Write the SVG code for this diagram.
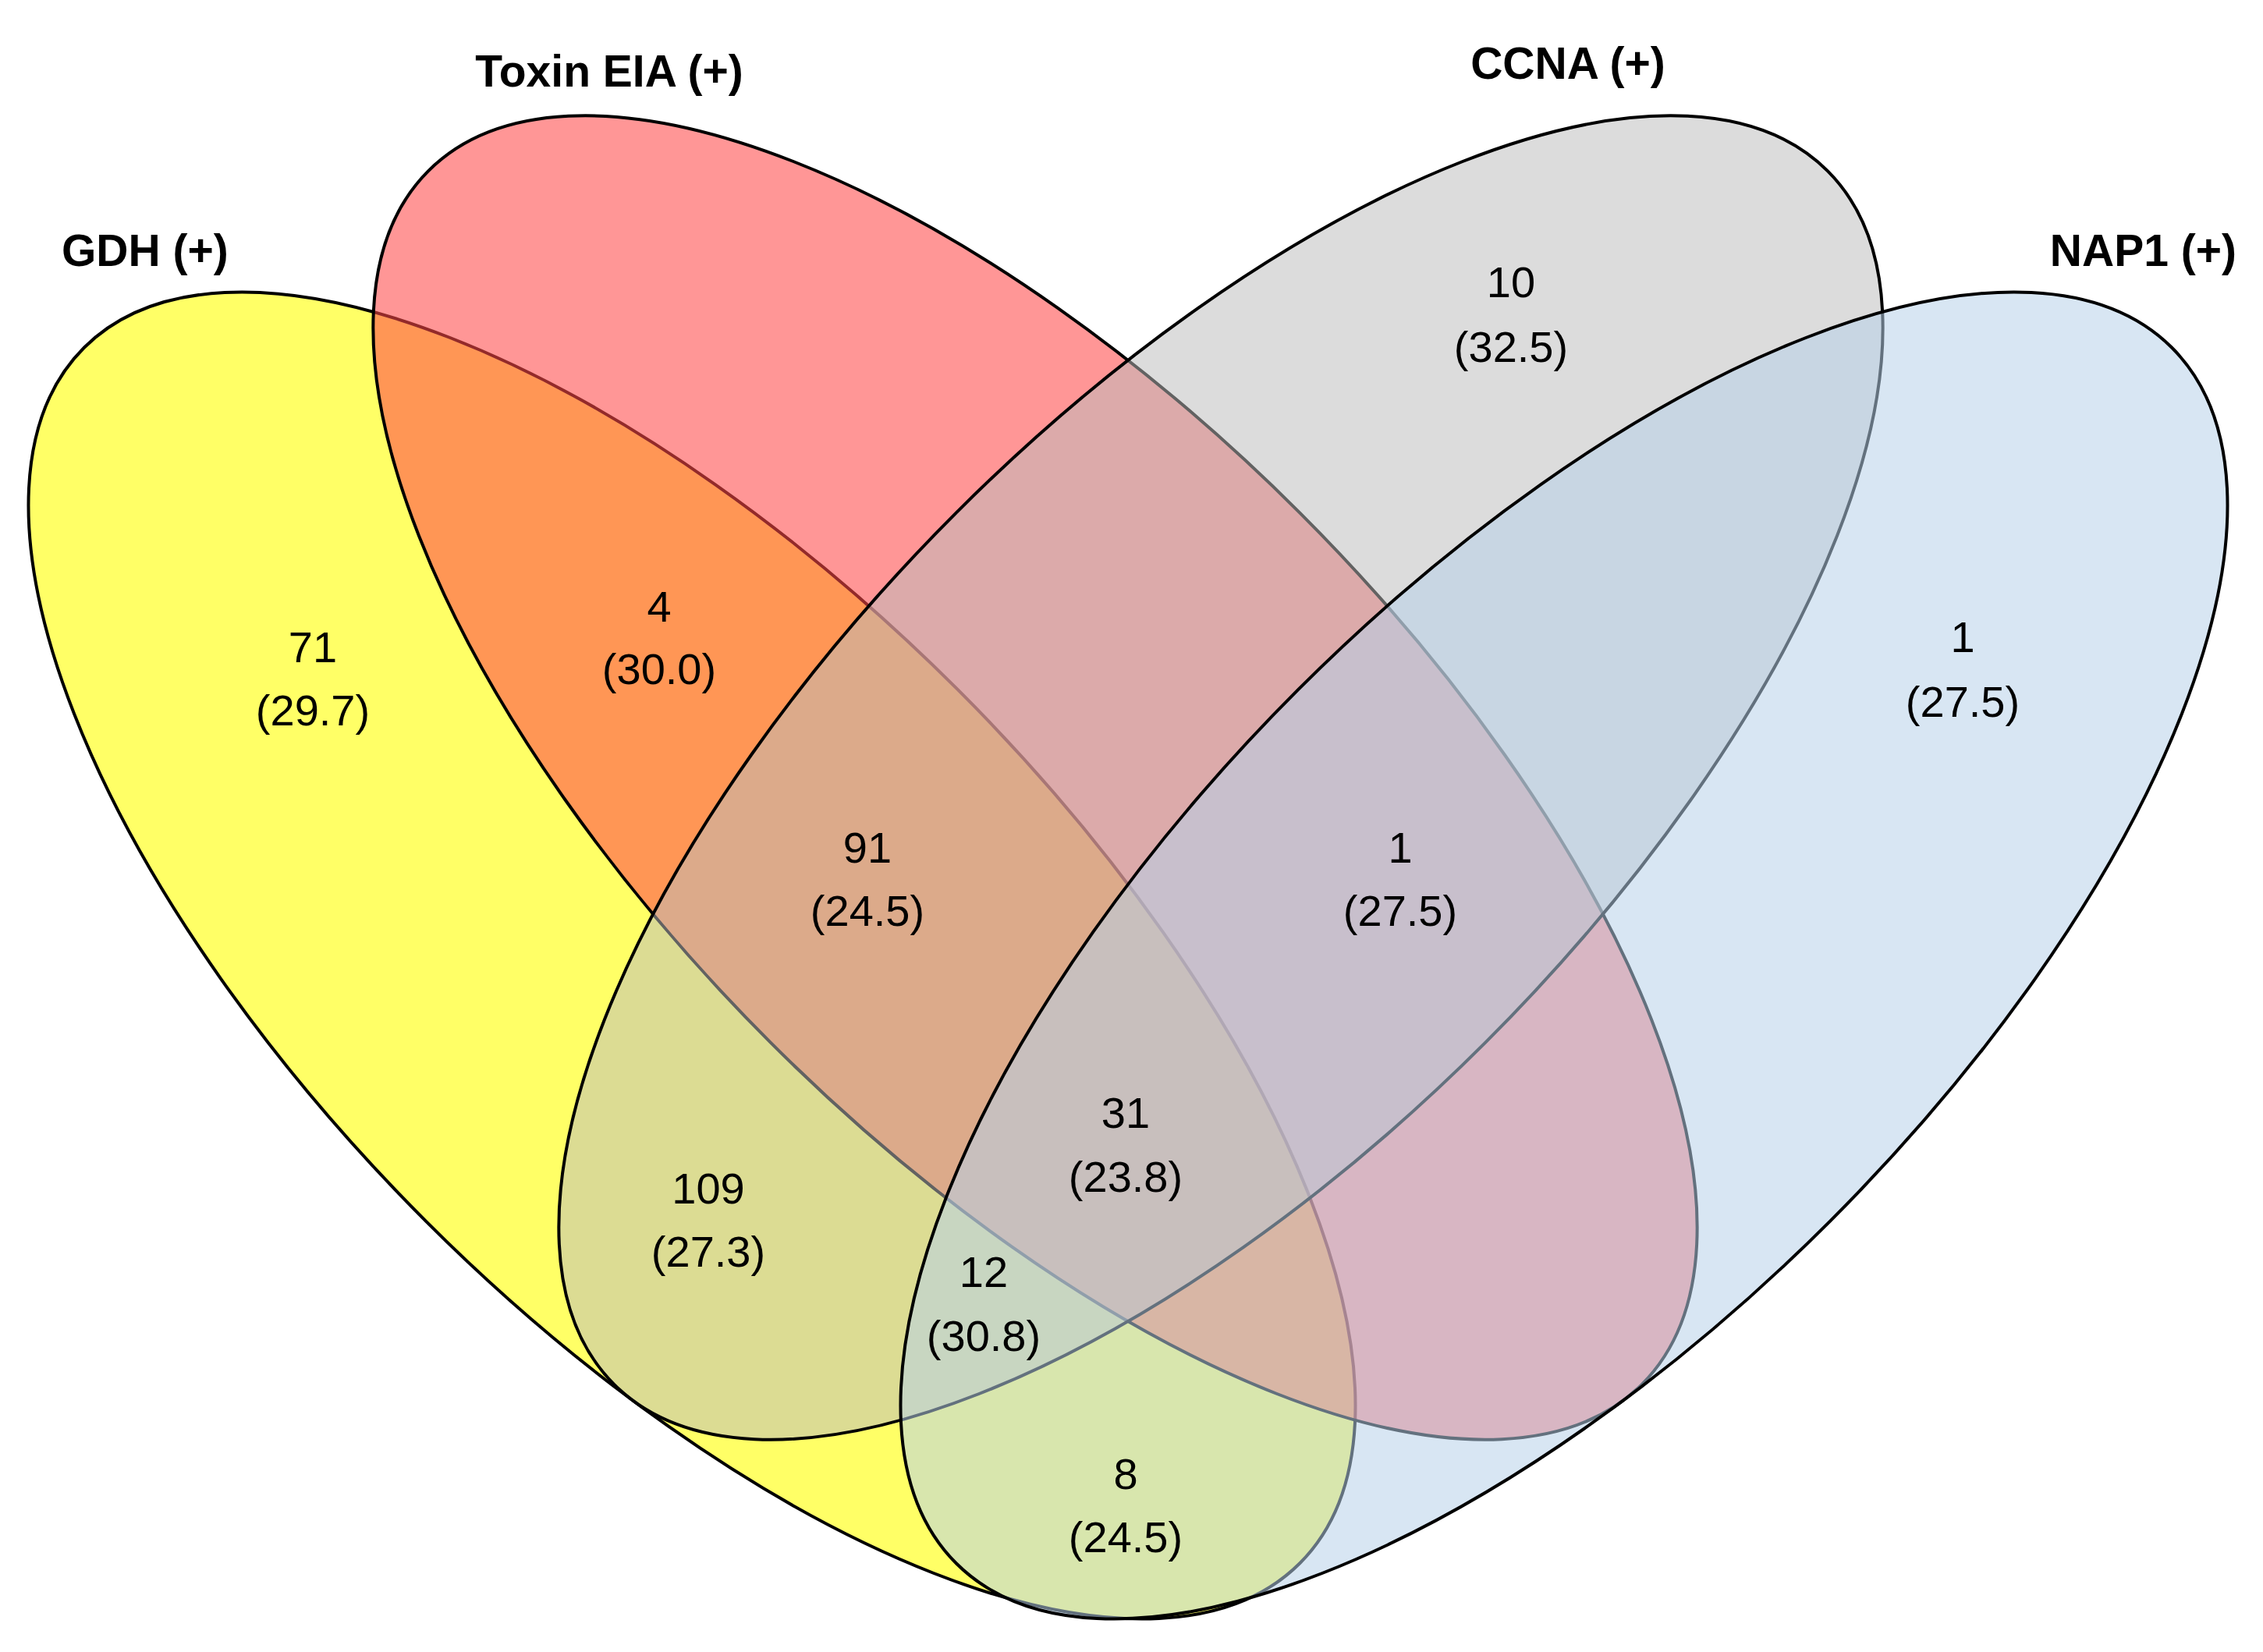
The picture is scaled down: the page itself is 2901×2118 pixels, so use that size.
<svg xmlns="http://www.w3.org/2000/svg" width="2901" height="2118" viewBox="0 0 2901 2118">
<style>
.set{stroke:#000;stroke-width:4}
.title{font-family:"Liberation Sans",Arial,sans-serif;font-weight:bold;font-size:57px;fill:#000}
.num{font-family:"Liberation Sans",Arial,sans-serif;font-size:56px;fill:#000;text-anchor:middle}
</style>
<rect width="2901" height="2118" fill="#fff"/>
<g id="set-gdh">
<ellipse class="set" cx="887" cy="1225" rx="1102" ry="482" transform="rotate(45 887 1225)" fill="rgb(255,255,0)" fill-opacity="0.6"/>
<text class="title" x="79" y="341">GDH (+)</text>
</g>
<g id="set-toxin">
<ellipse class="set" cx="1327" cy="997" rx="1100" ry="480" transform="rotate(45 1327 997)" fill="rgb(255,73,73)" fill-opacity="0.575"/>
<text class="title" x="781" y="111" text-anchor="middle">Toxin EIA (+)</text>
</g>
<g id="set-ccna">
<ellipse class="set" cx="1565" cy="997" rx="1100" ry="480" transform="rotate(-45 1565 997)" fill="rgb(188,188,188)" fill-opacity="0.52"/>
<text class="title" x="2010" y="101" text-anchor="middle">CCNA (+)</text>
</g>
<g id="set-nap1">
<ellipse class="set" cx="2005" cy="1225" rx="1102" ry="482" transform="rotate(-45 2005 1225)" fill="rgb(183,209,233)" fill-opacity="0.54"/>
<text class="title" x="2867" y="341" text-anchor="end">NAP1 (+)</text>
</g>
<g id="region-labels">
<g id="r-gdh"><text class="num" x="401" y="849">71</text><text class="num" x="401" y="930">(29.7)</text></g>
<g id="r-gdh-toxin"><text class="num" x="845" y="797">4</text><text class="num" x="845" y="877">(30.0)</text></g>
<g id="r-ccna"><text class="num" x="1937" y="381">10</text><text class="num" x="1937" y="464">(32.5)</text></g>
<g id="r-nap1"><text class="num" x="2516" y="836">1</text><text class="num" x="2516" y="919">(27.5)</text></g>
<g id="r-gdh-toxin-ccna"><text class="num" x="1112" y="1106">91</text><text class="num" x="1112" y="1187">(24.5)</text></g>
<g id="r-toxin-ccna-nap1"><text class="num" x="1795" y="1106">1</text><text class="num" x="1795" y="1187">(27.5)</text></g>
<g id="r-all"><text class="num" x="1443" y="1446">31</text><text class="num" x="1443" y="1528">(23.8)</text></g>
<g id="r-gdh-ccna"><text class="num" x="908" y="1543">109</text><text class="num" x="908" y="1624">(27.3)</text></g>
<g id="r-gdh-ccna-nap1"><text class="num" x="1261" y="1650">12</text><text class="num" x="1261" y="1732">(30.8)</text></g>
<g id="r-gdh-nap1"><text class="num" x="1443" y="1909">8</text><text class="num" x="1443" y="1990">(24.5)</text></g>
</g>
</svg>
